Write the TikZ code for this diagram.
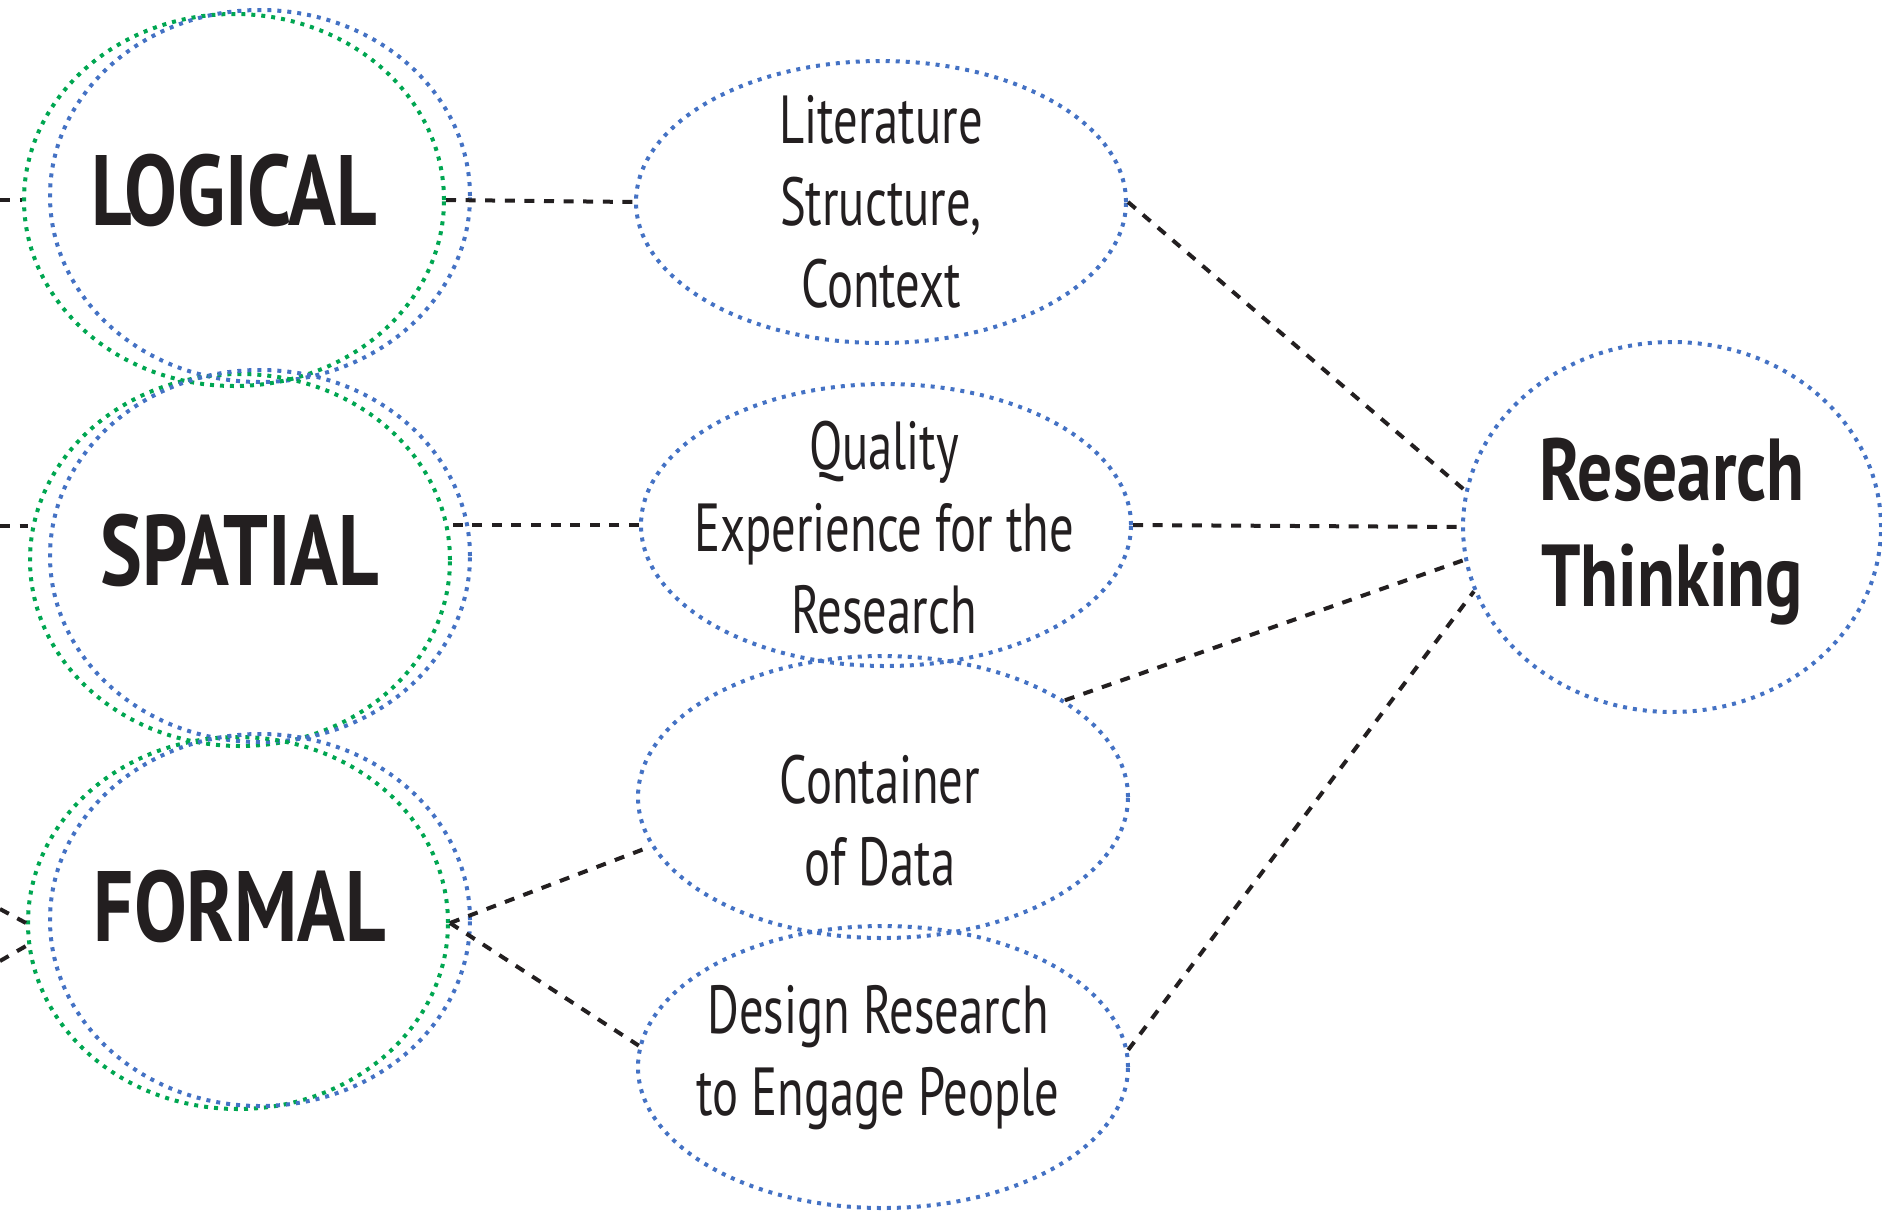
\documentclass[tikz,border=0pt]{standalone}
\usepackage{fontspec}
\setmainfont[FakeStretch=0.715, BoldFeatures={FakeStretch=0.79}]{PT Sans}
\usepackage{tikz}
\usetikzlibrary{shapes.geometric}
\definecolor{dotblue}{RGB}{68,114,196}
\definecolor{dotgreen}{RGB}{0,166,81}
\definecolor{ink}{RGB}{35,31,32}

\begin{document}
\begin{tikzpicture}[x=0.5pt,y=-0.5pt,
    ring/.style={ellipse, inner sep=0pt, line width=2pt, dash pattern=on 2pt off 3pt},
    leftring/.style={ring, minimum width=210pt, minimum height=186pt},
    greenring/.style={leftring, draw=dotgreen},
    bluering/.style={leftring, draw=dotblue},
    midring/.style={ring, draw=dotblue, minimum width=245pt, minimum height=141pt},
    bigtext/.style={text=ink, font=\fontsize{50}{60}\selectfont\bfseries},
    midtext/.style={text=ink, align=center, font=\fontsize{34}{41}\selectfont},
    link/.style={draw=ink, line width=2pt, dash pattern=on 5pt off 4.8pt}]
  \useasboundingbox (0,0) rectangle (1882,1211);

  % three ways of thinking, each a green and a blue ring
  \node[greenring] (logical) at (234,200) {};
  \node[bluering] (logical-b) at (260,196) {};
  \node[bigtext] (logical-t) at (234,190) {LOGICAL};

  \node[greenring] (spatial) at (240,560) {};
  \node[bluering] (spatial-b) at (260,556) {};
  \node[bigtext] (spatial-t) at (240,550) {SPATIAL};

  \node[greenring] (formal) at (238,923) {};
  \node[bluering] (formal-b) at (260,920) {};
  \node[bigtext] (formal-t) at (240,906) {FORMAL};

  % middle column
  \node[midring] (literature) at (881,202) {};
  \node[midtext] (literature-t) at (881,202) {Literature\\Structure,\\Context};
  \node[midring] (quality) at (886,525) {};
  \node[midtext] (quality-t) at (884,528) {Quality\\Experience for the\\Research};
  \node[midring] (container) at (883,797) {};
  \node[midtext] (container-t) at (880,821) {Container\\of Data};
  \node[midring] (design) at (883,1067) {};
  \node[midtext] (design-t) at (878,1058) {Design Research\\to Engage People};

  \node[ring, draw=dotblue, minimum width=209pt, minimum height=185pt] (research) at (1672,527) {};
  \node[text=ink, align=center, font=\fontsize{44}{53}\selectfont\bfseries] (research-t) at (1672,532) {Research\\Thinking};

  % connectors
  \coordinate (edge-l) at (0,200);
  \coordinate (edge-s) at (0,526);
  \coordinate (edge-f1) at (0,909);
  \coordinate (edge-f2) at (0,961);
  \draw[link] (edge-l) -- (logical.west);
  \draw[link] (edge-s) -- (edge-s -| spatial.west);
  \draw[link] (edge-f1) -- (formal.west);
  \draw[link] (edge-f2) -- (formal.186);
  \draw[link] (logical.east) -- (literature.west);
  \draw[link] (quality.west) -- (quality.west -| spatial.east);
  \draw[link] (formal.east) -- (container.192);
  \draw[link] (formal.east) -- (design.175);
  \draw[link] (literature.east) -- (research.170);
  \draw[link] (quality.east) -- (research.west);
  \draw[link] (container.28) -- (research.189);
  \draw[link] (design.4) -- (research.198);
\end{tikzpicture}
\end{document}
